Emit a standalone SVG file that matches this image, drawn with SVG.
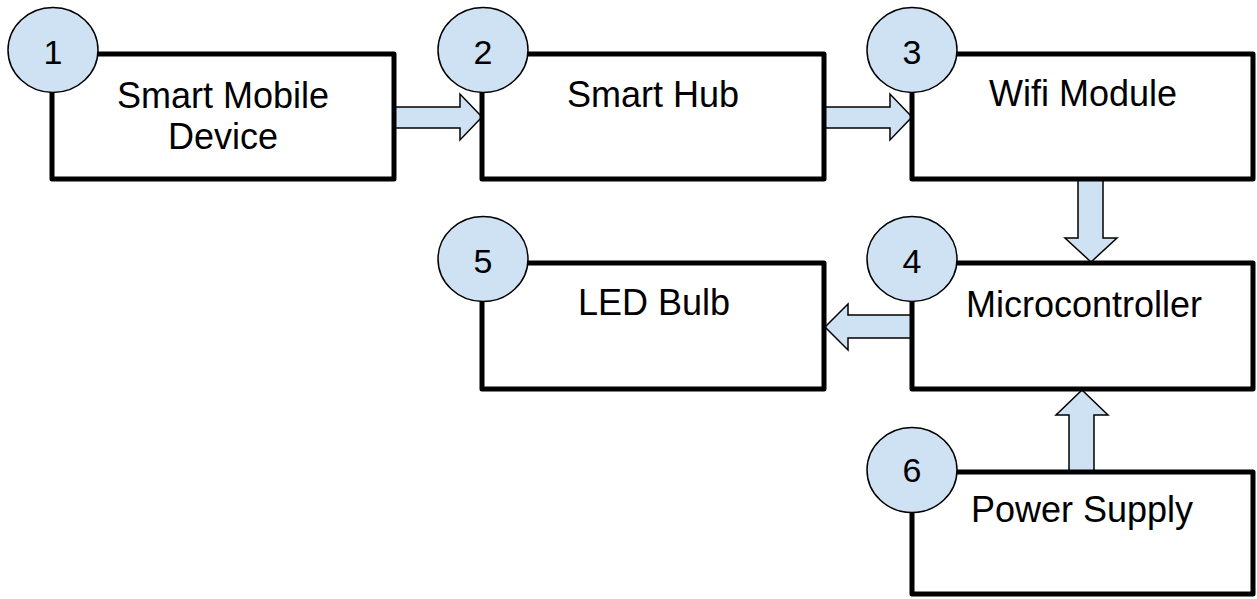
<svg xmlns="http://www.w3.org/2000/svg" width="1257" height="599" viewBox="0 0 1257 599">
<style>
.box{fill:#ffffff;stroke:#000000;stroke-width:5;stroke-linejoin:round}
.badge{fill:#cfe2f3;stroke:#000000;stroke-width:1.5}
.arrow{fill:#cfe2f3;stroke:#000000;stroke-width:1.5;stroke-linejoin:miter}
.lbl{font-family:"Liberation Sans",Arial,sans-serif;font-size:36px;fill:#000000;text-anchor:middle}
.num{font-family:"Liberation Sans",Arial,sans-serif;font-size:34px;fill:#000000;text-anchor:middle}
</style>
<rect width="1257" height="599" fill="#ffffff"/>
<g id="connectors">
<polygon class="arrow" points="395,107 460,107 460,94 482,117 460,140 460,128 395,128"/>
<polygon class="arrow" points="825,107 890,107 890,94 912,117 890,140 890,128 825,128"/>
<polygon class="arrow" points="1078,180 1103,180 1103,238 1117,238 1091,262 1065,238 1078,238"/>
<polygon class="arrow" points="912,315 848,315 848,304 825,327 848,350 848,338 912,338"/>
<polygon class="arrow" points="1069,472 1069,415 1056,415 1082,390 1108,415 1094,415 1094,472"/>
</g>
<g id="node1">
<rect class="box" x="52" y="54" width="342" height="125"/>
<ellipse class="badge" cx="53" cy="50" rx="45" ry="42.5"/>
<text class="num" x="53" y="64">1</text>
<text class="lbl" x="223" y="108">Smart Mobile</text>
<text class="lbl" x="223" y="149">Device</text>
</g>
<g id="node2">
<rect class="box" x="482" y="54" width="342" height="125"/>
<ellipse class="badge" cx="483" cy="50" rx="45" ry="42.5"/>
<text class="num" x="483" y="64">2</text>
<text class="lbl" x="653" y="107">Smart Hub</text>
</g>
<g id="node3">
<rect class="box" x="912" y="54" width="341" height="125"/>
<ellipse class="badge" cx="912" cy="50" rx="45" ry="42.5"/>
<text class="num" x="912" y="64">3</text>
<text class="lbl" x="1083" y="106">Wifi Module</text>
</g>
<g id="node5">
<rect class="box" x="482" y="263" width="342" height="126"/>
<ellipse class="badge" cx="483" cy="259" rx="45" ry="42.5"/>
<text class="num" x="483" y="273">5</text>
<text class="lbl" x="654" y="315">LED Bulb</text>
</g>
<g id="node4">
<rect class="box" x="912" y="263" width="341" height="126"/>
<ellipse class="badge" cx="912" cy="259" rx="45" ry="42.5"/>
<text class="num" x="912" y="273">4</text>
<text class="lbl" x="1084" y="317">Microcontroller</text>
</g>
<g id="node6">
<rect class="box" x="912" y="472" width="341" height="122"/>
<ellipse class="badge" cx="912" cy="470" rx="45" ry="42.5"/>
<text class="num" x="912" y="482">6</text>
<text class="lbl" x="1082" y="522">Power Supply</text>
</g>
</svg>
